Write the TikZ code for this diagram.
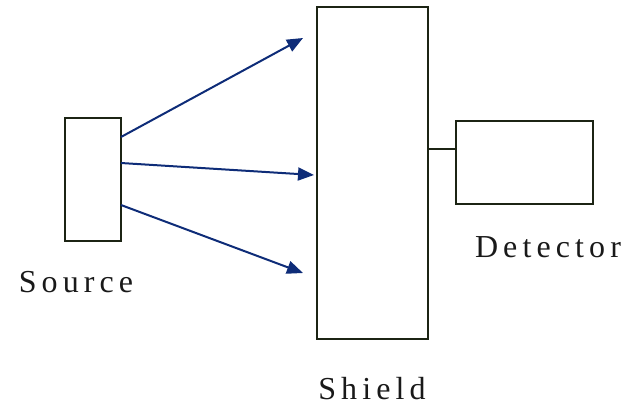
\documentclass[tikz,border=0pt]{standalone}
\usepackage{fontspec}
\setmainfont{Liberation Serif}
\usetikzlibrary{arrows.meta}
\definecolor{edge}{HTML}{1C2414}
\definecolor{ray}{HTML}{0E2C78}
\tikzset{
  box/.style={draw=edge, line width=1.6pt, fill=white, inner sep=0pt},
  lbl/.style={font=\fontsize{32}{32}\selectfont\addfontfeature{LetterSpace=16}, anchor=base, inner sep=0pt, text=black!90},
  rayarrow/.style={draw=ray, line width=2pt, -{Triangle[length=16pt,width=13pt]}},
}
\begin{document}
\begin{tikzpicture}[x=1pt,y=-1pt]
\useasboundingbox (0,0) rectangle (639,408);
\node[box, minimum width=56pt, minimum height=123pt] (source) at (93,179.5) {};
\node[box, minimum width=111pt, minimum height=332pt] (shield) at (372.5,173) {};
\node[box, minimum width=137pt, minimum height=83pt] (detector) at (524.5,162.5) {};
\coordinate (s1) at (121,137);
\coordinate (s2) at (121,163);
\coordinate (s3) at (121,205);
\coordinate (t1) at (303,38);
\coordinate (t2) at (314,175);
\coordinate (t3) at (303,273);
\draw[rayarrow] (s1) -- (t1);
\draw[rayarrow] (s2) -- (t2);
\draw[rayarrow] (s3) -- (t3);
\draw[edge, line width=1.6pt] (shield.east |- 0,149) -- (detector.west |- 0,149);
\node[lbl] (srclbl) at (76,292) {Source};
\node[lbl] (shdlbl) at (372,399) {Shield};
\node[lbl] (detlbl) at (548,257) {Detector};
\end{tikzpicture}
\end{document}
